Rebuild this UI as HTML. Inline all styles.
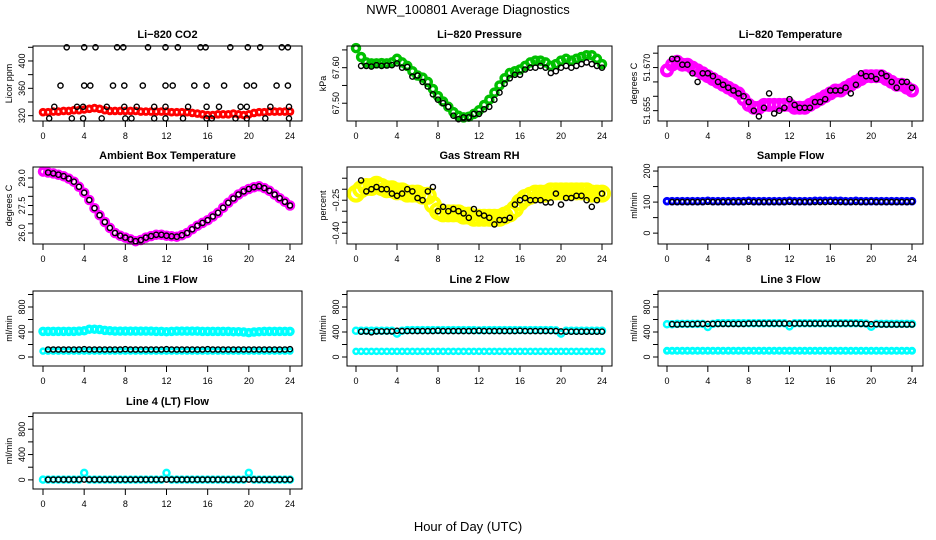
<!DOCTYPE html>
<html><head><meta charset="utf-8"><style>
body{margin:0;background:#fff}
svg{display:block;font-family:"Liberation Sans",Arial,sans-serif}
</style></head><body>
<svg id="chart" width="936" height="540" viewBox="0 0 936 540">
<text x="468" y="14" text-anchor="middle" font-size="13">NWR_100801  Average Diagnostics</text>
<text x="468" y="531" text-anchor="middle" font-size="13">Hour of Day (UTC)</text>
</svg>
<script>
const hours=[0,0.5,1,1.5,2,2.5,3,3.5,4,4.5,5,5.5,6,6.5,7,7.5,8,8.5,9,9.5,10,10.5,11,11.5,12,12.5,13,13.5,14,14.5,15,15.5,16,16.5,17,17.5,18,18.5,19,19.5,20,20.5,21,21.5,22,22.5,23,23.5,24];
const blackHours=[0.5,1,1.5,2,2.5,3,3.5,4,4.5,5,5.5,6,6.5,7,7.5,8,8.5,9,9.5,10,10.5,11,11.5,12,12.5,13,13.5,14,14.5,15,15.5,16,16.5,17,17.5,18,18.5,19,19.5,20,20.5,21,21.5,22,22.5,23,23.5,24];
const xTicks=[0,4,8,12,16,20,24];

const co2Red=[325,325,326,326,327,327,328,328,329,330,331,330,328,327,327,327,327,327,327,326,326,326,326,326,326,325,325,325,325,324,323,322,321,321,322,322,322,323,322,321,322,324,325,325,326,326,326,326,326];
const co2BlackHours=[2.3,4.0,5.1,7.2,7.8,10.2,11.9,13.1,15.3,15.8,18.2,19.9,21.1,23.2,23.8, 1.7,4.0,4.6,6.8,7.9,9.7,11.9,12.6,14.7,15.9,17.6,19.8,20.5,22.7,23.8, 1.1,3.3,3.9,6.2,7.9,9.1,10.8,11.9,14.1,15.9,17.1,19.2,19.8,22.1,23.9, 0.6,2.8,3.9,5.7,8.0,8.6,10.8,11.9,13.6,15.9,16.4,18.7,19.8,21.6,23.9];
const co2BlackVals=[420,420,420,420,420,420,420,420,420,420,420,420,420,420,420, 364,364,364,364,364,364,364,364,364,364,364,364,364,364,364, 333,333,333,333,333,333,333,333,333,333,333,333,333,333,333, 316,316,316,316,316,316,316,316,316,316,316,316,316,316,316];
const co2Ticks=[320,340,360,380,400,420];
const co2Labels=["320","","360","","400",""];

const presGreen=[67.655,67.63,67.615,67.612,67.612,67.613,67.612,67.615,67.625,67.615,67.605,67.59,67.578,67.572,67.56,67.54,67.52,67.505,67.49,67.475,67.465,67.46,67.462,67.47,67.48,67.495,67.51,67.53,67.55,67.57,67.585,67.59,67.595,67.605,67.615,67.62,67.62,67.615,67.605,67.61,67.62,67.625,67.62,67.625,67.63,67.635,67.635,67.625,67.61];
const presBlack=[67.605,67.605,67.603,67.607,67.605,67.606,67.607,67.612,67.6,67.602,67.575,67.578,67.56,67.547,67.525,67.51,67.5,67.49,67.465,67.455,67.46,67.46,67.47,67.47,67.483,67.49,67.51,67.53,67.555,67.57,67.58,67.58,67.595,67.6,67.6,67.605,67.6,67.585,67.59,67.6,67.605,67.6,67.605,67.61,67.615,67.61,67.605,67.6];
const presTicks=[67.50,67.55,67.60,67.65];
const presLabels=["67.50","","67.60",""];

const ltMagenta=[51.669,51.671,51.672,51.671,51.671,51.670,51.669,51.668,51.667,51.666,51.665,51.664,51.663,51.662,51.661,51.659,51.657,51.656,51.656,51.657,51.657,51.657,51.657,51.657,51.657,51.656,51.656,51.656,51.657,51.658,51.659,51.660,51.661,51.662,51.662,51.663,51.664,51.665,51.666,51.667,51.667,51.667,51.667,51.666,51.665,51.664,51.664,51.663,51.662];
const ltBlack=[51.673,51.673,51.671,51.671,51.668,51.665,51.668,51.668,51.667,51.665,51.664,51.663,51.662,51.661,51.660,51.658,51.655,51.653,51.656,51.661,51.654,51.655,51.656,51.659,51.657,51.656,51.656,51.656,51.658,51.658,51.659,51.662,51.662,51.662,51.663,51.661,51.664,51.668,51.667,51.667,51.666,51.668,51.667,51.665,51.663,51.665,51.665,51.663];
const ltTicks=[51.655,51.660,51.665,51.670,51.675];
const ltLabels=["51.655","","","51.670",""];

const ambMagenta=[29.35,29.3,29.25,29.18,29.1,28.97,28.8,28.52,28.2,27.8,27.35,26.97,26.6,26.28,26.0,25.85,25.75,25.65,25.55,25.62,25.75,25.83,25.9,25.9,25.85,25.82,25.8,25.88,26.0,26.2,26.4,26.55,26.7,26.9,27.1,27.38,27.65,27.88,28.1,28.27,28.4,28.5,28.55,28.45,28.3,28.1,27.9,27.7,27.5];
const ambBlack=[29.3,29.25,29.18,29.1,28.97,28.8,28.52,28.2,27.8,27.35,26.97,26.6,26.28,26.0,25.85,25.75,25.65,25.55,25.62,25.75,25.83,25.9,25.9,25.85,25.82,25.8,25.88,26.0,26.2,26.4,26.55,26.7,26.9,27.1,27.38,27.65,27.88,28.1,28.27,28.4,28.5,28.55,28.45,28.3,28.1,27.9,27.7,27.5];
const ambTicks=[26.0,26.5,27.0,27.5,28.0,28.5,29.0];
const ambLabels=["26.0","","","27.5","","","29.0"];

const rhYellow=[-0.22,-0.2,-0.19,-0.19,-0.18,-0.19,-0.2,-0.2,-0.21,-0.21,-0.22,-0.22,-0.22,-0.23,-0.23,-0.27,-0.3,-0.31,-0.31,-0.31,-0.31,-0.32,-0.32,-0.33,-0.33,-0.33,-0.33,-0.33,-0.33,-0.32,-0.31,-0.29,-0.26,-0.24,-0.23,-0.22,-0.22,-0.22,-0.21,-0.21,-0.21,-0.21,-0.21,-0.21,-0.21,-0.21,-0.22,-0.22,-0.22];
const rhBlack=[-0.16,-0.21,-0.2,-0.19,-0.2,-0.2,-0.22,-0.23,-0.22,-0.2,-0.21,-0.24,-0.25,-0.21,-0.19,-0.3,-0.28,-0.3,-0.29,-0.3,-0.31,-0.33,-0.29,-0.31,-0.32,-0.33,-0.36,-0.34,-0.34,-0.33,-0.27,-0.25,-0.24,-0.25,-0.25,-0.25,-0.26,-0.26,-0.22,-0.27,-0.24,-0.24,-0.23,-0.23,-0.25,-0.28,-0.25,-0.22];
const rhTicks=[-0.40,-0.35,-0.30,-0.25,-0.20,-0.15];
const rhLabels=["\u22120.40","","","\u22120.25","",""];

const sfBlue=[103,103,103,103,103,103,103,103,104,103,103,103,103,103,103,103,104,103,103,103,103,103,103,103,104,103,103,103,103,104,104,104,104,104,104,103,103,104,103,103,103,103,103,103,103,103,103,103,103];
const sfBlack=[100,100,100,100,100,100,100,101,100,100,100,100,100,100,100,101,100,100,100,100,100,100,100,101,100,100,100,100,100,100,100,101,100,100,100,100,100,100,100,101,100,100,100,100,100,100,100,101];
const sfTicks=[0,50,100,150,200];
const sfLabels=["0","","100","","200"];

const flowTicks=[0,200,400,600,800,1000];
const flowLabels=["0","","400","","800",""];

const l1CyanHigh=[410,410,410,410,410,410,410,415,420,445,445,440,425,420,415,415,415,415,415,415,415,415,410,410,405,410,415,415,415,415,415,410,410,410,410,410,410,405,405,400,390,400,405,410,410,410,410,410,410];
const l1CyanLow=[95,95,95,95,95,95,95,95,95,95,95,95,95,95,95,95,95,95,95,95,95,95,95,95,95,95,95,95,95,95,95,95,95,95,95,95,95,95,95,95,95,95,95,95,95,95,95,95,95];
const l1Black=[120,120,120,120,120,120,120,125,120,120,120,120,120,120,120,125,120,120,120,120,120,120,120,125,120,120,120,120,120,120,120,125,120,120,120,120,120,120,120,120,120,120,120,120,120,120,120,125];

const l2CyanHigh=[420,420,420,420,420,420,420,420,375,420,430,430,430,430,430,430,430,430,430,430,430,430,430,430,425,430,430,430,430,430,430,430,430,430,430,430,430,430,430,425,375,420,420,420,420,420,420,420,420];
const l2CyanLow=[90,90,90,90,90,90,90,90,90,90,90,90,90,90,90,90,90,90,90,90,90,90,90,90,90,90,90,90,90,90,90,90,90,90,90,90,90,90,90,90,90,90,90,90,90,90,90,90,90];
const l2Black=[405,410,395,410,410,410,410,420,415,415,415,415,415,415,415,420,415,415,415,415,415,415,415,420,415,415,415,415,415,415,415,420,415,415,415,415,415,415,415,410,405,405,405,405,405,405,405,405];

const l3CyanHigh=[525,525,530,530,530,530,530,530,480,530,540,540,540,540,540,540,540,540,540,540,540,540,540,540,490,540,540,540,540,540,540,540,540,540,540,540,540,540,540,535,485,530,530,530,530,530,530,530,530];
const l3CyanLow=[100,100,100,100,100,100,100,100,100,100,100,100,100,100,100,100,100,100,100,100,100,100,100,100,100,100,100,100,100,100,100,100,100,100,100,100,100,100,100,100,100,100,100,100,100,100,100,100,100];
const l3Black=[525,520,525,525,525,530,530,530,530,530,530,530,530,530,530,535,535,535,535,535,535,535,535,535,535,535,535,535,535,535,535,535,535,535,535,535,535,530,530,525,525,520,520,520,520,520,520,520];

const l4Cyan=[5,5,5,5,5,5,5,5,110,5,5,5,5,5,5,5,5,5,5,5,5,5,5,5,110,5,5,5,5,5,5,5,5,5,5,5,5,5,5,5,110,5,5,5,5,5,5,5,5];
const l4Black=[5,5,5,5,5,5,5,5,5,5,5,5,5,5,5,5,5,5,5,5,5,5,5,5,5,5,5,5,5,5,5,5,5,5,5,5,5,5,5,5,5,5,5,5,5,5,5,5];

const NS="http://www.w3.org/2000/svg";
const svg=document.getElementById("chart");
const cols=[{l:33,r:302,x0:43,x24:290},{l:347,r:612,x0:356,x24:602},{l:658,r:923,x0:667,x24:912}];
const rows=[{t:46,b:121},{t:167,b:244},{t:291,b:366},{t:413,b:489}];

function mk(tag,attrs,parent){const e=document.createElementNS(NS,tag);for(const k in attrs)e.setAttribute(k,attrs[k]);(parent||svg).appendChild(e);return e;}

const panels=[
 {key:"co2",title:"Li\u2212820 CO2",yl:"Licor ppm",c:0,r:0,ylim:[312.2,421.9],ticks:co2Ticks,labels:co2Labels,
  series:[{x:hours,y:co2Red,color:"#ff0000",rad:2.8,sw:3},{x:co2BlackHours,y:co2BlackVals,color:"#000",rad:2.6,sw:1.4}]},
 {key:"pressure",title:"Li\u2212820 Pressure",yl:"kPa",c:1,r:0,ylim:[67.450,67.661],ticks:presTicks,labels:presLabels,
  series:[{x:hours,y:presGreen,color:"#00c000",rad:3.5,sw:3.5},{x:blackHours,y:presBlack,color:"#000",rad:2.6,sw:1.4}]},
 {key:"li-temp",title:"Li\u2212820 Temperature",yl:"degrees C",c:2,r:0,ylim:[51.6514,51.6775],ticks:ltTicks,labels:ltLabels,
  series:[{x:hours,y:ltMagenta,color:"#ff00ff",rad:5,sw:4},{x:blackHours,y:ltBlack,color:"#000",rad:2.6,sw:1.4}]},
 {key:"ambient-temp",title:"Ambient Box Temperature",yl:"degrees C",c:0,r:1,ylim:[25.4,29.6],ticks:ambTicks,labels:ambLabels,
  series:[{x:hours,y:ambMagenta,color:"#ff00ff",rad:3.5,sw:3.5},{x:blackHours,y:ambBlack,color:"#000",rad:2.6,sw:1.4}]},
 {key:"gas-rh",title:"Gas Stream RH",yl:"percent",c:1,r:1,ylim:[-0.449,-0.099],ticks:rhTicks,labels:rhLabels,
  series:[{x:hours,y:rhYellow,color:"#ffff00",rad:7,sw:4},{x:blackHours,y:rhBlack,color:"#000",rad:2.6,sw:1.4}]},
 {key:"sample-flow",title:"Sample Flow",yl:"ml/min",c:2,r:1,ylim:[-35,213],ticks:sfTicks,labels:sfLabels,
  series:[{x:hours,y:sfBlue,color:"#0000ff",rad:2.8,sw:3},{x:blackHours,y:sfBlack,color:"#000",rad:2.6,sw:1.4}]},
 {key:"line1-flow",title:"Line 1 Flow",yl:"ml/min",c:0,r:2,ylim:[-144,1056],ticks:flowTicks,labels:flowLabels,
  series:[{x:hours,y:l1CyanHigh,color:"#00ffff",rad:3,sw:3.5},{x:hours,y:l1CyanLow,color:"#00ffff",rad:2.5,sw:2.5},{x:blackHours,y:l1Black,color:"#000",rad:2.6,sw:1.4}]},
 {key:"line2-flow",title:"Line 2 Flow",yl:"ml/min",c:1,r:2,ylim:[-144,1056],ticks:flowTicks,labels:flowLabels,
  series:[{x:hours,y:l2CyanHigh,color:"#00ffff",rad:3,sw:2.5},{x:hours,y:l2CyanLow,color:"#00ffff",rad:2.5,sw:2.5},{x:blackHours,y:l2Black,color:"#000",rad:2.6,sw:1.4}]},
 {key:"line3-flow",title:"Line 3 Flow",yl:"ml/min",c:2,r:2,ylim:[-144,1056],ticks:flowTicks,labels:flowLabels,
  series:[{x:hours,y:l3CyanHigh,color:"#00ffff",rad:3,sw:2.5},{x:hours,y:l3CyanLow,color:"#00ffff",rad:2.5,sw:3},{x:blackHours,y:l3Black,color:"#000",rad:2.6,sw:1.4}]},
 {key:"line4-flow",title:"Line 4 (LT) Flow",yl:"ml/min",c:0,r:3,ylim:[-144,1056],ticks:flowTicks,labels:flowLabels,
  series:[{x:hours,y:l4Cyan,color:"#00ffff",rad:3,sw:2.5},{x:blackHours,y:l4Black,color:"#000",rad:2.6,sw:1.4}]}
];

panels.forEach(p=>{
 const C=cols[p.c],R=rows[p.r];
 const g=mk("g",{});
 
 
 const xs=h=>C.x0+(C.x24-C.x0)*h/24;
 const ys=v=>R.b-(v-p.ylim[0])/(p.ylim[1]-p.ylim[0])*(R.b-R.t);
 const t=mk("text",{x:(C.l+C.r)/2,y:R.t-8,"text-anchor":"middle","font-size":"11","font-weight":"bold"},g);
 t.textContent=p.title;
 
 
 p.series.forEach((s,si)=>{
  const sg=mk("g",{fill:"none",stroke:s.color,"stroke-width":s.sw},g);
  
  
  s.y.forEach((v,i)=>{
   const c=mk("circle",{cx:xs(s.x[i]).toFixed(1),cy:ys(v).toFixed(1),r:s.rad},sg);
   
   
  });
 });
 const box=mk("rect",{x:C.l,y:R.t,width:C.r-C.l,height:R.b-R.t,fill:"none",stroke:"#000","stroke-width":1},g);
 
 
 const xa=mk("g",{},g);
 
 
 xTicks.forEach(h=>{
  mk("line",{x1:xs(h),x2:xs(h),y1:R.b,y2:R.b+6,stroke:"#000"},xa);
  const tl=mk("text",{x:xs(h),y:R.b+18,"text-anchor":"middle","font-size":"9"},xa);
  tl.textContent=String(h);
 });
 const ya=mk("g",{},g);
 
 
 p.ticks.forEach((v,i)=>{
  const y=ys(v);
  mk("line",{x1:C.l-5,x2:C.l,y1:y,y2:y,stroke:"#000"},ya);
  if(p.labels[i]){
   const tl=mk("text",{x:0,y:0,"text-anchor":"middle","font-size":"9",transform:`translate(${C.l-8},${y}) rotate(-90)`},ya);
   tl.textContent=p.labels[i];
  }
 });
 const yt=mk("text",{x:0,y:0,"text-anchor":"middle","font-size":"9",transform:`translate(${C.l-21},${(R.t+R.b)/2}) rotate(-90)`},g);
 yt.textContent=p.yl;
 
 
});
</script>
</body></html>
